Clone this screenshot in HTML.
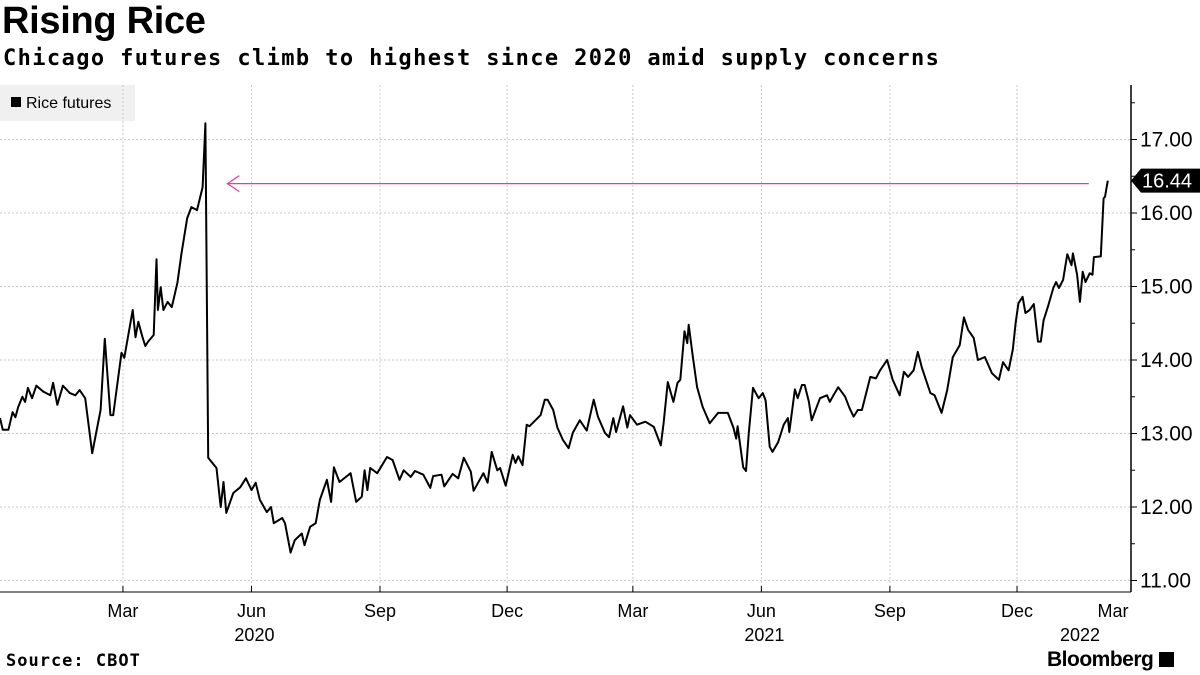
<!DOCTYPE html>
<html><head><meta charset="utf-8"><style>
body{margin:0;background:#fff;font-family:"Liberation Sans",sans-serif;}
#wrap{position:relative;width:1200px;height:675px;overflow:hidden;}
.t{position:absolute;white-space:nowrap;color:#000;}
</style></head><body>
<div id="wrap">
<div class="t" style="left:2px;top:0px;font-size:38px;font-weight:bold;letter-spacing:-0.3px;">Rising Rice</div>
<div class="t" style="left:3px;top:46px;font-size:22px;font-weight:bold;font-family:'DejaVu Sans Mono','Liberation Mono',monospace;letter-spacing:1.4px;">Chicago futures climb to highest since 2020 amid supply concerns</div>
<div class="t" style="left:6px;top:651px;font-size:17px;font-weight:bold;font-family:'DejaVu Sans Mono','Liberation Mono',monospace;letter-spacing:1px;">Source: CBOT</div>
<div class="t" style="left:1047px;top:648px;font-size:21px;font-weight:bold;letter-spacing:-0.5px;">Bloomberg <span style="display:inline-block;width:15px;height:15px;background:#000;vertical-align:-1px;"></span></div>
<svg id="chart" width="1200" height="675" style="position:absolute;left:0;top:0"></svg>
</div>
<script>
const days=[0,2,6,9,11,13,16,18,20,23,26,31,36,38,41,45,50,54,57,61,66,72,75,79,81,87,89,95,97,99,102,104,106,110,112,113,115,117,120,123,127,130,134,137,141,145,147,149,155,158,160,162,167,172,176,180,183,186,191,194,196,202,204,208,211,216,218,222,226,229,234,237,239,243,251,255,259,261,263,265,270,277,281,286,289,294,297,303,308,310,316,318,324,328,332,337,339,346,349,352,356,358,362,367,369,371,374,377,379,387,390,392,396,399,403,407,410,415,420,425,428,433,436,439,441,446,449,451,456,462,468,473,475,478,482,485,487,490,492,493,496,499,503,508,514,521,525,527,528,532,534,536,539,543,546,548,551,553,557,561,564,565,569,571,574,576,579,581,587,592,594,596,600,605,608,611,614,617,623,627,630,635,639,644,647,650,654,657,660,666,669,674,678,682,687,690,693,697,700,705,710,715,718,722,725,727,729,732,734,737,740,743,745,747,750,754,756,758,761,764,767,768,771,773,775,777,780,782,783,788,790,791,793];
const prices=[13.21,13.05,13.05,13.29,13.22,13.36,13.50,13.43,13.62,13.48,13.65,13.57,13.52,13.69,13.39,13.65,13.55,13.52,13.59,13.48,12.73,13.32,14.29,13.25,13.25,14.10,14.03,14.68,14.31,14.52,14.31,14.19,14.25,14.34,15.37,14.68,14.99,14.68,14.79,14.72,15.05,15.46,15.93,16.08,16.04,16.35,17.22,12.67,12.53,12.00,12.34,11.92,12.19,12.27,12.39,12.23,12.33,12.10,11.93,12.00,11.78,11.85,11.78,11.38,11.55,11.64,11.48,11.73,11.78,12.10,12.37,12.07,12.54,12.34,12.46,12.07,12.14,12.50,12.23,12.53,12.46,12.68,12.64,12.37,12.50,12.41,12.49,12.44,12.26,12.42,12.44,12.28,12.45,12.39,12.67,12.48,12.22,12.46,12.33,12.75,12.50,12.53,12.29,12.71,12.60,12.69,12.57,13.12,13.10,13.25,13.46,13.46,13.32,13.08,12.91,12.80,13.01,13.18,13.04,13.46,13.23,13.01,12.95,13.21,13.02,13.37,13.08,13.25,13.12,13.16,13.09,12.84,13.14,13.70,13.43,13.69,13.73,14.39,14.23,14.48,14.04,13.63,13.36,13.14,13.28,13.28,13.08,12.93,13.10,12.54,12.49,13.01,13.62,13.48,13.55,13.45,12.82,12.75,12.88,13.12,13.21,13.02,13.60,13.48,13.66,13.66,13.43,13.18,13.48,13.52,13.43,13.50,13.63,13.50,13.35,13.23,13.32,13.32,13.77,13.75,13.86,14.00,13.73,13.52,13.84,13.77,13.86,14.11,13.89,13.55,13.52,13.28,13.59,14.04,14.20,14.58,14.41,14.30,14.00,14.04,13.82,13.73,13.97,13.86,14.14,14.50,14.77,14.86,14.64,14.68,14.76,14.25,14.25,14.54,14.72,14.98,15.06,14.98,15.09,15.44,15.29,15.45,15.16,14.79,15.20,15.06,15.18,15.16,15.40,15.41,16.20,16.22,16.44];
const yTicks=[11,12,13,14,15,16,17];
const yTickLabels=["11.00","12.00","13.00","14.00","15.00","16.00","17.00"];
const monthTickDays=[88,180,272,363,453,545,637,728,818];
const monthLabels=["Mar","Jun","Sep","Dec","Mar","Jun","Sep","Dec","Mar"];
const yearTickDays=[180,545,818];
const yearLabels=["2020","2021","2022"];
const lastValue=16.44;
const peakDay=147;

const NS="http://www.w3.org/2000/svg";
const svg=document.getElementById('chart');
const PX_PER_DAY=1.397, AXIS_X=1131, TOP=85, BOTTOM=592;
const x=d=>d*PX_PER_DAY;
const y=v=>139.5+(17-v)*73.5;
function mk(tag,attrs,parent){const e=document.createElementNS(NS,tag);for(const k in attrs)e.setAttribute(k,attrs[k]);(parent||svg).appendChild(e);return e;}

const lg=mk('g',{});


mk('rect',{x:0,y:85,width:135,height:36,fill:'#f0f0f0'},lg);
mk('rect',{x:11,y:97,width:10,height:10,fill:'#000'},lg);
const lt=mk('text',{x:26,y:108,'font-size':16,fill:'#000','font-family':'Liberation Sans, sans-serif'},lg);
lt.textContent='Rice futures';

yTicks.forEach((v,i)=>{
  const g=mk('line',{x1:0,x2:AXIS_X,y1:y(v),y2:y(v),stroke:'#c8c8c8','stroke-dasharray':'2,2','stroke-width':1});
  
  
  mk('line',{x1:AXIS_X,x2:AXIS_X+6,y1:y(v),y2:y(v),stroke:'#000'});
  if(i<yTicks.length-1) mk('line',{x1:AXIS_X,x2:AXIS_X+4,y1:y(v+0.5),y2:y(v+0.5),stroke:'#000'});
  const t=mk('text',{x:1140,y:y(v)+7,'font-size':21,fill:'#000','font-family':'Liberation Sans, sans-serif'});
  t.textContent=yTickLabels[i];
  
  
});
mk('line',{x1:AXIS_X,x2:AXIS_X+4,y1:y(17.5),y2:y(17.5),stroke:'#000'});
monthTickDays.forEach((d,i)=>{
  const xp=x(d);
  if(xp<AXIS_X){
    const g=mk('line',{x1:xp,x2:xp,y1:TOP,y2:BOTTOM,stroke:'#c8c8c8','stroke-dasharray':'2,2'});
    
    
    mk('line',{x1:xp,x2:xp,y1:BOTTOM,y2:BOTTOM-6,stroke:'#000'});
  }
  const t=mk('text',{x:Math.min(xp,1113),y:617,'font-size':18,fill:'#000','text-anchor':'middle','font-family':'Liberation Sans, sans-serif'});
  t.textContent=monthLabels[i];
  
  
});
yearTickDays.forEach((d,i)=>{
  const t=mk('text',{x:Math.min(x(d)+3,1080),y:641,'font-size':18,fill:'#000','text-anchor':'middle','font-family':'Liberation Sans, sans-serif'});
  t.textContent=yearLabels[i];
  
  
});
mk('line',{x1:AXIS_X,x2:AXIS_X,y1:TOP,y2:BOTTOM,stroke:'#000','stroke-width':1.5});
mk('line',{x1:0,x2:AXIS_X,y1:BOTTOM,y2:BOTTOM,stroke:'#000','stroke-width':1});

let d='';
days.forEach((dd,i)=>{d+=(i?'L':'M')+x(dd).toFixed(1)+','+y(prices[i]).toFixed(1);});
const p=mk('path',{d:d,fill:'none',stroke:'#000','stroke-width':2,'stroke-linejoin':'round'});



const lastDay=days[days.length-1];
const ay=y(lastValue)+3;
const ag=mk('g',{stroke:'#e0409a','stroke-width':1.2,fill:'none'});


mk('line',{x1:x(peakDay)+22,x2:x(lastDay)-19,y1:ay,y2:ay},ag);
mk('polyline',{points:`${x(peakDay)+34},${ay-8} ${x(peakDay)+22},${ay} ${x(peakDay)+34},${ay+8}`},ag);

const by=y(lastValue);
const bg=mk('g',{});


mk('polygon',{points:`${AXIS_X},${by} ${AXIS_X+10},${by-12} 1200,${by-12} 1200,${by+12} ${AXIS_X+10},${by+12}`,fill:'#000'},bg);
const bt=mk('text',{x:1142,y:by+7,'font-size':20,fill:'#fff','font-family':'Liberation Sans, sans-serif'},bg);
bt.textContent=lastValue.toFixed(2);
</script>
</body></html>
